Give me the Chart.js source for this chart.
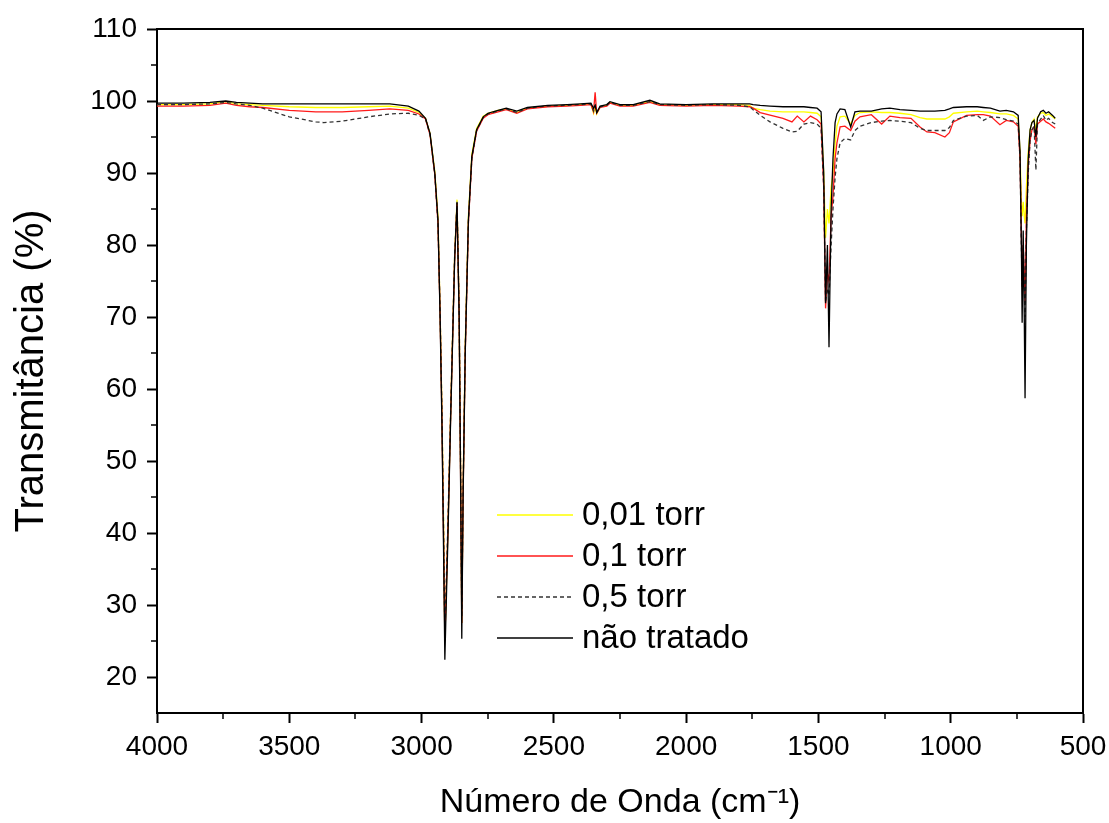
<!DOCTYPE html>
<html>
<head>
<meta charset="utf-8">
<script src="https://cdn.jsdelivr.net/npm/chart.js@4.4.1/dist/chart.umd.min.js"></script>
<style>
  html, body { margin: 0; padding: 0; background: #fff; }
  #wrap { width: 1109px; height: 823px; }
</style>
</head>
<body>
<div id="wrap"><canvas id="ftir" width="1109" height="823"></canvas></div>
<script>
// numero de onda (cm-1), comum a todas as curvas
const waveNumber = [
  4000, 3900, 3800, 3740, 3700, 3650, 3600, 3500, 3400, 3370,
  3300, 3200, 3120, 3050, 3010, 2985, 2968, 2950, 2938, 2930,
  2923, 2917, 2912, 2900, 2890, 2875, 2866, 2858, 2852, 2848,
  2843, 2835, 2823, 2810, 2792, 2767, 2749, 2711, 2680, 2640,
  2600, 2523, 2450, 2400, 2360, 2350, 2344, 2338, 2325, 2300,
  2288, 2250, 2200, 2137, 2100, 2000, 1900, 1800, 1760, 1747,
  1720, 1683, 1634, 1600, 1580, 1555, 1530, 1505, 1490, 1480,
  1473, 1466, 1460, 1452, 1445, 1437, 1430, 1418, 1400, 1378,
  1362, 1343, 1300, 1261, 1230, 1192, 1150, 1116, 1090, 1060,
  1022, 1005, 990, 940, 900, 877, 850, 814, 790, 763,
  745, 738, 733, 730, 726, 722, 719, 714, 707, 700,
  693, 685, 678, 672, 660, 650, 640, 630, 615, 605
];

// transmitancia (%)
const torr001 = [
  99.5, 99.5, 99.6, 99.9, 99.6, 99.5, 99.4, 99.2, 99.1, 99.1,
  99.1, 99.2, 99.3, 99.0, 98.4, 97.6, 95.5, 90.2, 84, 71,
  57, 42, 25, 41, 57, 78.5, 86.3, 71, 47, 27.5,
  46, 66, 84, 92.6, 96.2, 97.9, 98.3, 98.7, 98.9, 98.4,
  99.0, 99.3, 99.4, 99.5, 99.6, 98.3, 99.2, 98.2, 99.2, 99.4,
  99.8, 99.4, 99.4, 99.9, 99.5, 99.4, 99.5, 99.5, 99.4, 99.0,
  98.8, 98.6, 98.5, 98.5, 98.5, 98.5, 98.4, 98.3, 97.8, 90,
  81, 85, 83, 88, 90, 94, 96.5, 97.8, 97.9, 96.8,
  98.0, 98.4, 98.5, 98.4, 98.4, 98.3, 98.1, 97.7, 97.5, 97.5,
  97.5, 97.8, 98.3, 98.5, 98.6, 98.5, 98.4, 98.2, 98.2, 98.0,
  97.5, 93, 86, 84, 86, 84, 83, 88, 93, 96,
  97, 97.5, 96, 97.8, 98.3, 98.4, 98.0, 98.2, 97.8, 97.5
];
const torr01 = [
  99.3, 99.3, 99.4, 99.7, 99.4, 99.2, 99.1, 98.7, 98.5, 98.5,
  98.5, 98.7, 98.9, 98.7, 98.2, 97.5, 95.3, 89.8, 83, 70.5,
  56, 40, 25.1, 41, 56.5, 78, 85.8, 70.5, 46, 27.5,
  45.5, 65, 83, 92, 95.8, 97.6, 98.1, 98.5, 98.8, 98.3,
  98.9, 99.2, 99.3, 99.4, 99.5, 98.5, 101.2, 98.3, 99.1, 99.3,
  99.7, 99.3, 99.3, 99.8, 99.4, 99.3, 99.4, 99.3, 99.2, 99.0,
  98.4, 98.05, 97.6, 97.1, 97.9, 97.1, 97.9, 97.4, 96.8, 88,
  71.2, 76, 75, 84, 86.7, 92, 94.2, 96.4, 96.5, 95.9,
  97.2, 97.8, 98.1, 96.8, 97.9, 97.7, 97.6, 96.4, 95.7, 95.6,
  95.0, 95.6, 97.1, 98.0, 98.1, 98.1, 97.9, 96.7, 97.3, 97.1,
  96.5, 92, 82, 75, 80, 76, 72, 84, 91, 94.5,
  96, 96.4, 94, 96.8, 97.2, 97.5, 97.1, 96.9, 96.5, 96.2
];
const torr05 = [
  99.5, 99.5, 99.6, 99.8, 99.6, 99.4, 99.0, 97.8, 97.1, 97.0,
  97.2, 97.8, 98.2, 98.3, 98.0, 97.5, 95.3, 89.8, 83, 71,
  57, 41, 26, 42, 57, 78.5, 86, 71, 47, 28.3,
  46, 65.5, 83.2, 92, 95.9, 97.7, 98.2, 98.6, 98.9, 98.4,
  99.0, 99.3, 99.4, 99.5, 99.6, 98.6, 99.3, 98.4, 99.2, 99.4,
  99.8, 99.4, 99.4, 99.9, 99.5, 99.4, 99.5, 99.4, 99.2, 98.8,
  98.0, 97.1, 96.2, 95.7, 95.8, 96.8, 97.0, 96.8, 96.2, 88,
  72, 74, 73, 80, 85, 89.4, 92, 94.2, 94.8, 94.6,
  95.9, 96.5, 97.0, 97.2, 97.3, 97.2, 97.0, 96.2, 95.9, 95.9,
  95.9, 96.3, 97.3, 97.9, 98.0, 97.3, 97.8, 97.7, 97.4, 97.2,
  96.8, 92, 80, 74, 80, 75, 70, 82, 90, 94.5,
  96, 96.5, 90.4, 96.8, 97.5, 98.0, 97.3, 97.6, 97.0, 96.8
];
const naoTratado = [
  99.7, 99.7, 99.8, 100.0, 99.8, 99.7, 99.6, 99.6, 99.6, 99.6,
  99.6, 99.6, 99.6, 99.3, 98.6, 97.6, 95.5, 90.0, 83.5, 70.0,
  55.0, 38.0, 22.4, 40.0, 56.0, 78.0, 85.9, 70.0, 45.0, 25.3,
  45.0, 65.0, 83.5, 92.3, 96.0, 97.8, 98.3, 98.7, 99.0, 98.6,
  99.1, 99.4, 99.5, 99.6, 99.7, 99.0, 99.4, 98.4, 99.3, 99.5,
  99.9, 99.5, 99.5, 100.1, 99.6, 99.5, 99.6, 99.6, 99.6, 99.5,
  99.4, 99.3, 99.2, 99.2, 99.2, 99.2, 99.1, 99.0, 98.5, 90,
  71.9, 80, 65.8, 85, 92, 97, 98.2, 98.9, 98.8, 96.4,
  98.5, 98.6, 98.6, 98.9, 99.0, 98.8, 98.7, 98.6, 98.6, 98.6,
  98.7, 98.9, 99.1, 99.2, 99.2, 99.1, 99.0, 98.6, 98.7, 98.5,
  98.0, 93, 80, 69.2, 82, 70, 58.7, 80, 92, 96,
  97, 97.3, 95, 97.6, 98.5, 98.7, 98.3, 98.5, 98.0, 97.6
];

const seriesLabels = ["0,01 torr", "0,1 torr", "0,5 torr", "não tratado"];
const xTicks = [4000, 3500, 3000, 2500, 2000, 1500, 1000, 500];
const yTicks = [20, 30, 40, 50, 60, 70, 80, 90, 100, 110];

function pts(arr) {
  return waveNumber.map((w, i) => ({ x: w, y: arr[i] }));
}

const FONT = "'Liberation Sans', Arial, sans-serif";

// moldura, ticks menores e legenda dentro do grafico
const extras = {
  id: "extras",
  afterDraw(chart) {
    const ctx = chart.ctx;
    const a = chart.chartArea;
    const xs = chart.scales.x, ys = chart.scales.y;
    ctx.save();
    ctx.strokeStyle = "#000";
    ctx.lineWidth = 2;
    ctx.beginPath();
    ctx.moveTo(a.left, a.top);
    ctx.lineTo(a.right, a.top);
    ctx.lineTo(a.right, a.bottom);
    ctx.stroke();

    // ticks menores
    ctx.lineWidth = 1.5;
    ctx.beginPath();
    for (let v = 3750; v > 500; v -= 500) {
      const px = Math.round(xs.getPixelForValue(v));
      ctx.moveTo(px, a.bottom);
      ctx.lineTo(px, a.bottom + 6);
    }
    for (let v = 25; v < 110; v += 10) {
      const py = Math.round(ys.getPixelForValue(v));
      ctx.moveTo(a.left, py);
      ctx.lineTo(a.left - 6, py);
    }
    ctx.stroke();

    // legenda
    ctx.font = "33px " + FONT;
    ctx.textBaseline = "middle";
    ctx.fillStyle = "#000";
    chart.data.datasets.forEach((ds, i) => {
      const y = 515 + i * 41;
      ctx.strokeStyle = ds.borderColor;
      ctx.lineWidth = ds.borderWidth;
      ctx.setLineDash(ds.borderDash || []);
      ctx.beginPath();
      ctx.moveTo(497, y);
      ctx.lineTo(573, y);
      ctx.stroke();
      ctx.setLineDash([]);
      ctx.fillText(ds.label, 582, y + 1);
    });
    ctx.restore();
  }
};

new Chart(document.getElementById("ftir"), {
  type: "line",
  data: {
    datasets: [
      { label: seriesLabels[0], data: pts(torr001), borderColor: "#ffff00", borderWidth: 1.3, order: 3 },
      { label: seriesLabels[1], data: pts(torr01), borderColor: "#ff1a1a", borderWidth: 1.3, order: 2 },
      { label: seriesLabels[2], data: pts(torr05), borderColor: "#333333", borderWidth: 1.3, borderDash: [4, 3], order: 1 },
      { label: seriesLabels[3], data: pts(naoTratado), borderColor: "#000000", borderWidth: 1.3, order: 0 }
    ]
  },
  options: {
    responsive: false,
    animation: false,
    layout: { padding: { top: 29, right: 26, left: 0, bottom: 0 } },
    elements: { point: { radius: 0 }, line: { tension: 0 } },
    plugins: { legend: { display: false }, tooltip: { enabled: false } },
    scales: {
      x: {
        type: "linear",
        reverse: true,
        min: 500,
        max: 4000,
        afterBuildTicks: (s) => { s.ticks = xTicks.map(v => ({ value: v })); },
        afterFit: (s) => { s.height = 110; s.paddingRight = 0; s.paddingLeft = 0; },
        ticks: {
          color: "#000",
          font: { family: FONT, size: 28 },
          padding: 7,
          maxRotation: 0,
          callback: (v) => String(v)
        },
        grid: { drawOnChartArea: false, drawTicks: true, tickLength: 10, tickWidth: 2, tickColor: "#000" },
        border: { display: true, color: "#000", width: 2 },
        title: {
          display: true,
          text: "Número de Onda (cm⁻¹)",
          color: "#000",
          font: { family: FONT, size: 34 },
          padding: { top: 0, bottom: 0 }
        }
      },
      y: {
        min: 15,
        max: 110,
        afterBuildTicks: (s) => { s.ticks = yTicks.map(v => ({ value: v })); },
        afterFit: (s) => { s.width = 157; },
        ticks: { color: "#000", font: { family: FONT, size: 28 }, padding: 10, callback: (v) => String(v) },
        grid: { drawOnChartArea: false, drawTicks: true, tickLength: 10, tickWidth: 2, tickColor: "#000" },
        border: { display: true, color: "#000", width: 2 },
        title: {
          display: true,
          text: "Transmitância (%)",
          color: "#000",
          font: { family: FONT, size: 40 },
          padding: { top: 8, bottom: 0 }
        }
      }
    }
  },
  plugins: [extras]
});
</script>
</body>
</html>
